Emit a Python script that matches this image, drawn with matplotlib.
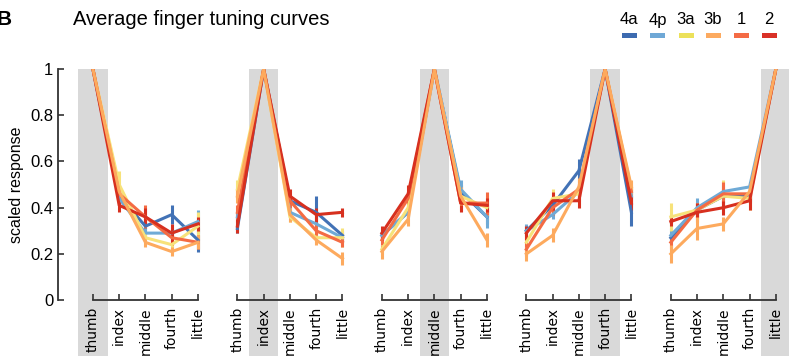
import matplotlib.pyplot as plt
from matplotlib.patches import Rectangle

fingers = ['thumb', 'index', 'middle', 'fourth', 'little']
areas = ['4a', '4p', '3a', '3b', '1', '2']
colors = ['#4272b6', '#6faad6', '#f7e27a', '#fdaa5e', '#f46b43', '#d7301f']
legend_colors = ['#3d6bb0', '#6fa8d6', '#ece15a', '#fcaa60', '#f46b45', '#d93127']

# one row per tuning curve (peak finger = thumb, index, middle, fourth, little)
resp_4a = [[1, .45, .32, .37, .26],
           [.31, 1, .43, .38, .28],
           [.28, .38, 1, .47, .36],
           [.30, .41, .56, 1, .38],
           [.27, .39, .45, .45, 1]]
resp_4p = [[1, .44, .29, .29, .34],
           [.36, 1, .38, .33, .27],
           [.28, .38, 1, .48, .36],
           [.30, .37, .47, 1, .45],
           [.28, .40, .47, .49, 1]]
resp_3a = [[1, .50, .27, .24, .32],
           [.48, 1, .36, .27, .27],
           [.22, .40, 1, .45, .40],
           [.25, .44, .46, 1, .48],
           [.36, .39, .45, .44, 1]]
resp_3b = [[1, .47, .25, .21, .25],
           [.45, 1, .37, .26, .18],
           [.21, .35, 1, .45, .26],
           [.20, .28, .49, 1, .49],
           [.20, .31, .33, .47, 1]]
resp_1 = [[1, .46, .36, .27, .25],
          [.38, 1, .43, .30, .25],
          [.26, .44, 1, .42, .42],
          [.22, .40, .48, 1, .47],
          [.25, .39, .46, .46, 1]]
resp_2 = [[1, .41, .36, .29, .33],
          [.32, 1, .45, .37, .38],
          [.29, .46, 1, .42, .41],
          [.29, .43, .43, 1, .42],
          [.34, .38, .40, .43, 1]]

err_4a = [[0, .03, .03, .04, .05], [.02, 0, .02, .07, .02], [.02, .02, 0, .03, .03],
          [.02, .03, .05, 0, .06], [.02, .03, .03, .03, 0]]
err_4p = [[0, .02, .02, .02, .05], [.02, 0, .02, .03, .02], [.02, .02, 0, .04, .05],
          [.03, .02, .02, 0, .04], [.03, .04, .03, .02, 0]]
err_3a = [[0, .06, .02, .02, .06], [.04, 0, .02, .02, .04], [.02, .02, 0, .02, .03],
          [.02, .04, .03, 0, .03], [.06, .03, .07, .05, 0]]
err_3b = [[0, .03, .02, .02, .03], [.03, 0, .03, .02, .03], [.03, .03, 0, .04, .03],
          [.03, .03, .04, 0, .03], [.04, .05, .03, .03, 0]]
err_1 = [[0, .03, .05, .03, .03], [.03, 0, .03, .03, .02], [.02, .03, 0, .03, .05],
         [.03, .03, .03, 0, .03], [.03, .03, .05, .03, 0]]
err_2 = [[0, .03, .04, .04, .03], [.03, 0, .03, .03, .02], [.03, .04, 0, .04, .03],
         [.03, .04, .03, 0, .03], [.02, .04, .03, .04, 0]]

responses = [resp_4a, resp_4p, resp_3a, resp_3b, resp_1, resp_2]
errors = [err_4a, err_4p, err_3a, err_3b, err_1, err_2]
draw_order = [0, 1, 2, 4, 5, 3]
group_step = 5.5


def main():
    plt.rcParams['font.family'] = ['Liberation Sans', 'DejaVu Sans']
    fig = plt.figure(figsize=(7.89, 3.56), dpi=100)
    ax = fig.add_axes([0.0735, 0.157, 0.9265, 0.649])

    positions = []
    for g in range(5):
        xs = [g * group_step + f for f in range(5)]
        positions += xs
        # grey band over the peak finger, running down behind the labels
        ax.add_patch(Rectangle((xs[g] - 0.56, -0.26), 1.12, 1.26,
                               transform=ax.get_xaxis_transform(),
                               color='#d9d9d9', lw=0, zorder=0, clip_on=False))
        ax.plot([xs[0], xs[-1]], [0, 0], color='#333333', lw=1.3,
                transform=ax.get_xaxis_transform(), clip_on=False, zorder=3)

    for k, i in enumerate(draw_order):
        for g in range(5):
            xs = [g * group_step + f for f in range(5)]
            ax.errorbar(xs, responses[i][g], yerr=errors[i][g], color=colors[i],
                        lw=2.2, elinewidth=2.2, capsize=0, zorder=2 + k * 0.01)

    ax.set_xlim(-1.33, 26.5)
    ax.set_ylim(0, 1)
    ax.set_xticks(positions)
    ax.set_xticklabels(fingers * 5, rotation=90, family='DejaVu Sans', fontsize=10)
    ax.set_yticks([0, 0.2, 0.4, 0.6, 0.8, 1])
    ax.set_yticklabels(['0', '0.2', '0.4', '0.6', '0.8', '1'], fontsize=12)
    ax.tick_params(direction='in', length=4, width=1.2, color='#333333')
    ax.tick_params(axis='x', pad=5)
    for side in ['top', 'right', 'bottom']:
        ax.spines[side].set_visible(False)
    ax.spines['left'].set_linewidth(1.3)
    ax.spines['left'].set_color('#333333')
    ax.set_ylabel('scaled response', fontsize=11.5, labelpad=4)
    ax.patch.set_alpha(0)

    fig.text(-0.004, 0.945, 'B', fontsize=15, fontweight='bold', va='center')
    fig.text(0.093, 0.945, 'Average finger tuning curves', fontsize=14.5, va='center')

    legend_x = [629, 658, 686, 713, 741, 769]
    for x, name, c in zip(legend_x, areas, legend_colors):
        fig.text(x / 789, 1 - 20 / 356, name, fontsize=12, ha='center', va='center')
        fig.patches.append(Rectangle((x / 789 - 7.5 / 789, 1 - 38 / 356), 15 / 789, 5 / 356,
                                     transform=fig.transFigure, color=c, lw=0))

    fig.savefig('out.png', dpi=100)


if __name__ == '__main__':
    main()
